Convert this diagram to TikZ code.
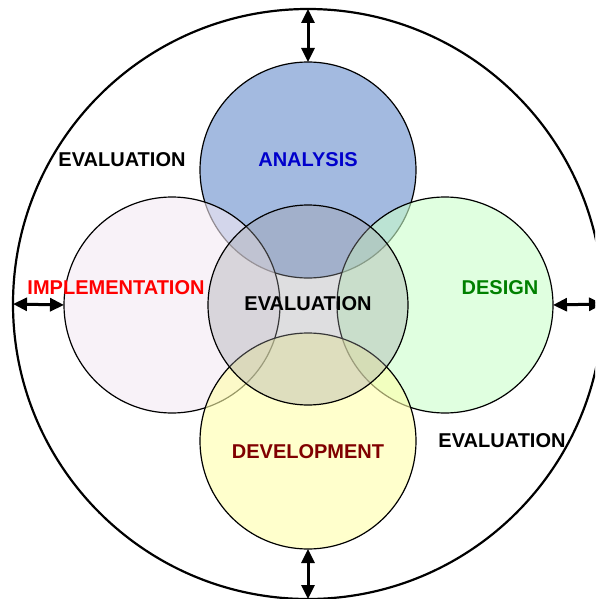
\documentclass[tikz,border=0pt]{standalone}
\usepackage{fontspec}
\setmainfont{Liberation Sans}
\usetikzlibrary{arrows.meta}

\definecolor{anaFill}{RGB}{102,140,203}
\definecolor{impFill}{RGB}{243,233,243}
\definecolor{desFill}{RGB}{203,255,203}
\definecolor{devFill}{RGB}{255,255,170}
\definecolor{evaFill}{RGB}{160,160,165}
\definecolor{anaText}{RGB}{0,0,204}
\definecolor{desText}{RGB}{0,128,0}
\definecolor{devText}{RGB}{128,0,0}

\tikzset{
  phase/.style={circle, draw=black, line width=1.2pt, inner sep=0pt, outer sep=0pt,
    minimum size=216pt, fill opacity=0.6},
  core/.style={circle, draw=black, line width=1.2pt, inner sep=0pt, outer sep=0pt,
    minimum size=200pt, fill=evaFill, fill opacity=0.35},
  ring/.style={circle, draw=black, line width=2.2pt, inner sep=0pt, outer sep=0pt,
    minimum size=590pt},
  lbl/.style={font=\fontsize{20}{23}\selectfont\bfseries, inner sep=0pt},
  feedback/.style={line width=3pt, {Triangle[length=14pt,width=13pt]}-{Triangle[length=14pt,width=13pt]}}
}

\begin{document}
\begin{tikzpicture}[x=1pt,y=-1pt]
  \useasboundingbox (0,0) rectangle (595,599);
  \clip (0,0) rectangle (595,599);

  % outer cycle
  \node[ring] (outer) at (308,304) {};

  % the four phases, then the shared evaluation core on top
  \node[phase, fill=anaFill] (ana) at (308,170) {};
  \node[phase, fill=impFill] (imp) at (172,305) {};
  \node[phase, fill=desFill] (des) at (445,305) {};
  \node[phase, fill=devFill] (dev) at (308,441) {};
  \node[core] (eva) at (308,305) {};

  % feedback arrows between the ring and the phases
  \draw[feedback] (outer.north) -- (ana.north);
  \draw[feedback] (outer.west) -- (imp.west);
  \draw[feedback] (outer.east) -- (des.east);
  \draw[feedback] (outer.south) -- (dev.south);

  % labels
  \node[lbl, text=anaText] (tana) at (308,160) {ANALYSIS};
  \node[lbl, text=red] (timp) at (116,288) {IMPLEMENTATION};
  \node[lbl, text=desText] (tdes) at (500,288) {DESIGN};
  \node[lbl, text=devText] (tdev) at (308,452) {DEVELOPMENT};
  \node[lbl] (teva) at (308,304) {EVALUATION};
  \node[lbl] (tevaA) at (122,160) {EVALUATION};
  \node[lbl] (tevaB) at (502,441) {EVALUATION};
\end{tikzpicture}
\end{document}
